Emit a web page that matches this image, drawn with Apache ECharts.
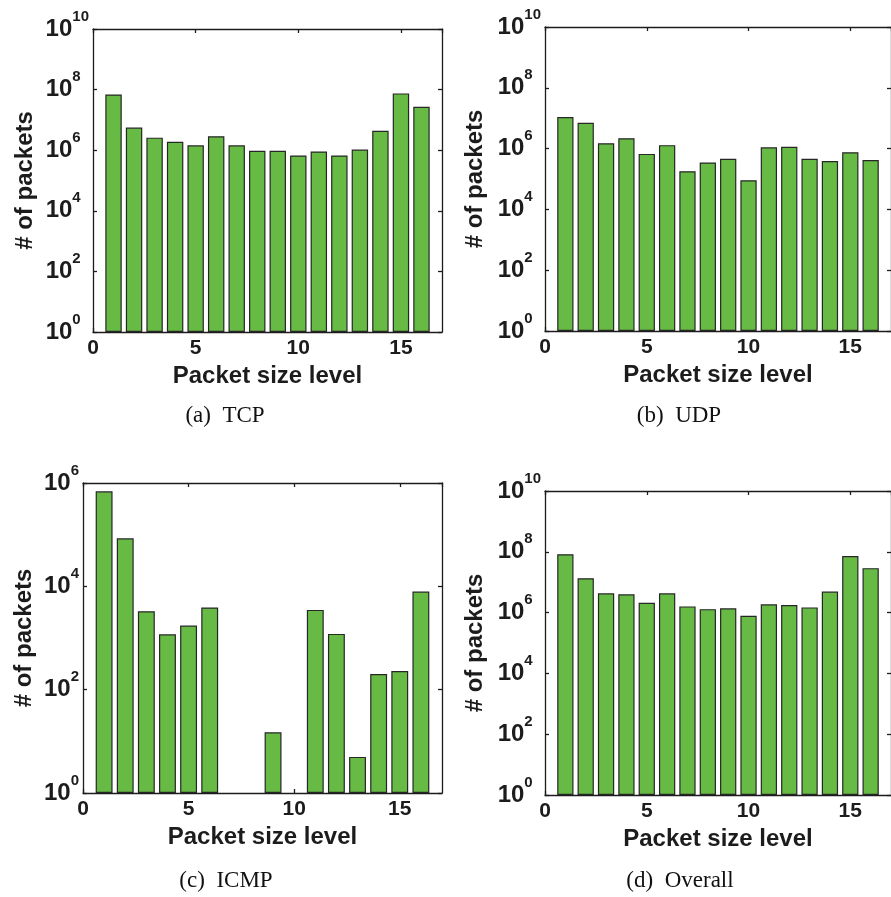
<!DOCTYPE html>
<html>
<head>
<meta charset="utf-8">
<script src="https://cdn.jsdelivr.net/npm/echarts@6/dist/echarts.min.js"></script>
<style>html,body{margin:0;padding:0;background:#fff;}#c{width:891px;height:897px;}</style>
</head>
<body>
<div id="c"></div>
<script>
const levels = [1,2,3,4,5,6,7,8,9,10,11,12,13,14,15,16];
const tcp = [6.9e7,5.6e6,2.6e6,1.9e6,1.45e6,2.9e6,1.45e6,9.6e5,9.6e5,6.7e5,9.1e5,6.7e5,1.05e6,4.4e6,7.5e7,2.7e7];
const udp = [1.1e7,7.1e6,1.5e6,2.2e6,6.7e5,1.3e6,1.8e5,3.5e5,4.6e5,9.1e4,1.1e6,1.15e6,4.6e5,3.9e5,7.6e5,4.2e5];
const icmp = [6.9e5,8.5e4,3.3e3,1.18e3,1.74e3,3.9e3,null,null,15,null,3.5e3,1.2e3,5,200,230,7.9e3];
const overall = [8.3e7,1.35e7,4.3e6,4.0e6,2.1e6,4.3e6,1.6e6,1.3e6,1.38e6,7.9e5,1.87e6,1.78e6,1.48e6,4.9e6,7.3e7,2.9e7];
const xTicks = [0,5,10,15];
const captions = ['(a)  TCP','(b)  UDP','(c)  ICMP','(d)  Overall'];
const xName = 'Packet size level';
const yName = '# of packets';

const F = '"Liberation Sans", Arial, Helvetica, sans-serif';
const FS = '"Liberation Serif", "Times New Roman", serif';
const INK = '#1c1c1c';

const panels = [
  {data: tcp, grid:{left:93, top:29, width:349, height:303}, ymax:1e10, split:5, twoDigit:true, nameGap:56, cap:[225,416]},
  {data: udp, grid:{left:545, top:27, width:349, height:304}, ymax:1e10, split:5, twoDigit:true, nameGap:58, cap:[679,416]},
  {data: icmp, grid:{left:83, top:483, width:359, height:310}, ymax:1e6, split:3, twoDigit:false, nameGap:47, cap:[226,881]},
  {data: overall, grid:{left:545, top:491, width:349, height:304}, ymax:1e10, split:5, twoDigit:true, nameGap:58, cap:[680,881]}
];

const grid = [], xAxis = [], yAxis = [], series = [], graphic = [];
const lineStyle = {color: INK, width: 1.3};
panels.forEach((p, i) => {
  grid.push(Object.assign({containLabel:false}, p.grid));
  xAxis.push({
    type:'value', gridIndex:i, min:0, max:17, interval:5, position:'bottom',
    axisLine:{show:true, onZero:false, lineStyle},
    axisTick:{show:true, inside:true, length:4, lineStyle},
    axisLabel:{show:true, showMaxLabel:false, margin:6, fontSize:21, fontWeight:'bold', fontFamily:F, color:INK,
      formatter: v => xTicks.indexOf(v) >= 0 ? String(v) : ''},
    splitLine:{show:false},
    name:xName, nameLocation:'middle', nameGap:32,
    nameTextStyle:{fontSize:24, fontWeight:'bold', fontFamily:F, color:INK}
  });
  xAxis.push({
    type:'value', gridIndex:i, min:0, max:17, interval:5, position:'top',
    axisLine:{show:true, onZero:false, lineStyle},
    axisTick:{show:true, inside:true, length:4, lineStyle},
    axisLabel:{show:false}, splitLine:{show:false}
  });
  const eBase = {fontSize:15, fontWeight:'bold', fontFamily:F, color:INK, lineHeight:16, verticalAlign:'top'};
  const rich = {
    b:{fontSize:24, fontWeight:'bold', fontFamily:F, color:INK, lineHeight:40, verticalAlign:'middle'},
    e:Object.assign({}, eBase),
    s:Object.assign({}, eBase, {padding:[0, 8.3, 0, 0]})
  };
  yAxis.push({
    type:'log', logBase:10, gridIndex:i, min:1, max:p.ymax, splitNumber:p.split, interval:2, position:'left',
    axisLine:{show:true, onZero:false, lineStyle},
    axisTick:{show:true, inside:true, length:4, lineStyle},
    minorTick:{show:false},
    axisLabel:{show:true, margin:4, rich, formatter: v => {
      const ex = String(Math.round(Math.log10(v)));
      const st = (p.twoDigit && ex.length === 1) ? 's' : 'e';
      return '{b|10}{' + st + '|' + ex + '}';
    }},
    splitLine:{show:false},
    name:yName, nameLocation:'middle', nameGap:p.nameGap,
    nameTextStyle:{fontSize:24, fontWeight:'bold', fontFamily:F, color:INK}
  });
  yAxis.push({
    type:'log', logBase:10, gridIndex:i, min:1, max:p.ymax, splitNumber:p.split, interval:2, position:'right',
    axisLine:{show:true, onZero:false, lineStyle},
    axisTick:{show:true, inside:true, length:4, lineStyle},
    axisLabel:{show:false}, splitLine:{show:false}
  });
  series.push({
    type:'bar', xAxisIndex:2*i, yAxisIndex:2*i, barWidth:'80%',
    data: levels.map((l, k) => [l, p.data[k]]),
    itemStyle:{color:'#67bb45', borderColor:'#262626', borderWidth:1.2},
    emphasis:{disabled:true}, animation:false
  });
  graphic.push({
    type:'text', x:p.cap[0], y:p.cap[1],
    style:{text:captions[i], fontSize:23, fontFamily:FS, fill:'#111', align:'center', verticalAlign:'middle'}
  });
});

const chart = echarts.init(document.getElementById('c'), null, {renderer:'canvas'});
chart.setOption({animation:false, backgroundColor:'#fff', grid, xAxis, yAxis, series, graphic});
</script>
</body>
</html>
